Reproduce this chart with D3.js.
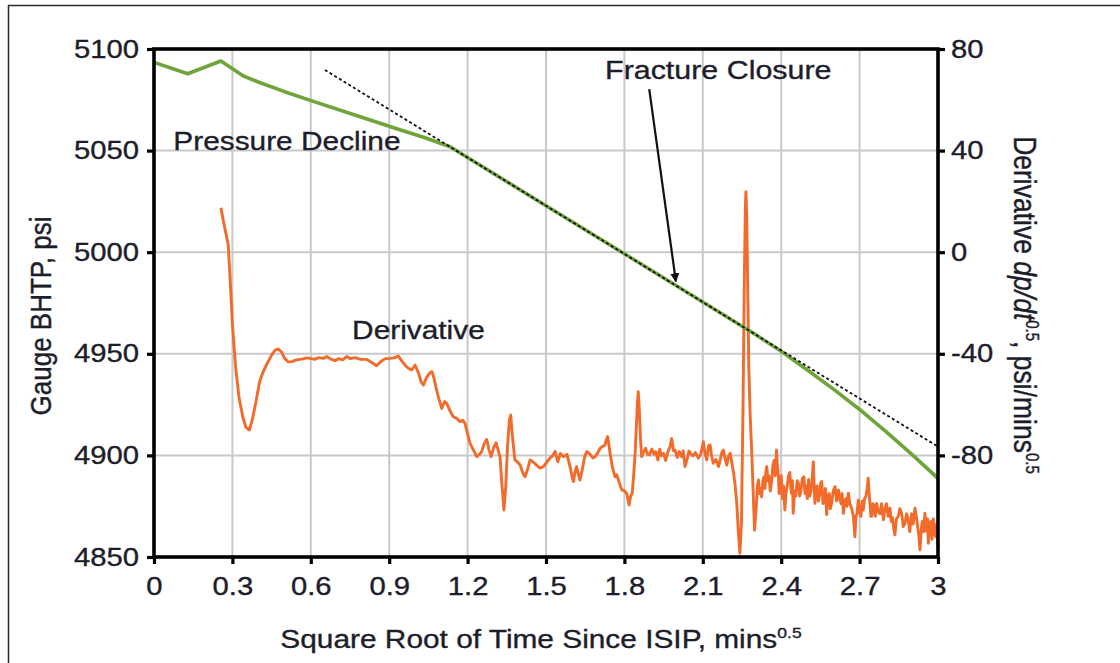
<!DOCTYPE html>
<html>
<head>
<meta charset="utf-8">
<script src="https://cdn.jsdelivr.net/npm/d3@7"></script>
<style>
  html, body { margin: 0; padding: 0; background: #ffffff; }
  svg { display: block; }
  text { font-family: "Liberation Sans", Arial, Helvetica, sans-serif; fill: #1d1d2b;
         stroke: #1d1d2b; stroke-width: 0.35px; }
</style>
</head>
<body>
<svg id="chart" width="1120" height="663"></svg>
<script>
// ---- Data -------------------------------------------------------------
// Bottom-hole pressure (psi) against square root of shut-in time
const pressureT = [0, 0.129, 0.256, 0.342, 0.406, 0.50, 0.601, 0.78, 0.941, 1.04, 1.133,
                   1.5, 1.8, 2.1, 2.3, 2.4, 2.5, 2.6, 2.7, 2.8, 2.9, 3.0];
const pressureP = [5093.4, 5087.8, 5094.1, 5086.7, 5083.4, 5079.0, 5074.6, 5067.0, 5060.3, 5056.2, 5051.9,
                   5022.9, 4999.2, 4975.5, 4959.6, 4951.2, 4942.0, 4932.6, 4922.6, 4911.8, 4900.5, 4888.7];

// Straight-line fit through the linear part of the decline
const tangentT = [0.654, 3.0];
const tangentP = [5089.7, 4904.3];

// Pressure derivative dp/dt^0.5 (psi/mins^0.5)
const derivT = [
  0.256, 0.266, 0.278, 0.284, 0.292, 0.300, 0.312, 0.325, 0.340, 0.352, 0.365, 0.376, 0.390, 0.404,
  0.418, 0.432, 0.450, 0.463, 0.476, 0.488, 0.500, 0.514, 0.527, 0.545, 0.565, 0.585, 0.597, 0.615,
  0.630, 0.648, 0.661, 0.675, 0.693, 0.708, 0.722, 0.737, 0.752, 0.770, 0.790, 0.814, 0.830, 0.852,
  0.868, 0.885, 0.903, 0.918, 0.935, 0.948, 0.960, 0.972, 0.986, 0.999, 1.012, 1.022, 1.031, 1.042,
  1.053, 1.063, 1.070, 1.078, 1.088, 1.101, 1.112, 1.120, 1.132, 1.145, 1.158, 1.171, 1.182, 1.190,
  1.200, 1.209, 1.222, 1.235, 1.245, 1.254, 1.264, 1.273, 1.282, 1.290, 1.300, 1.309, 1.317, 1.324,
  1.331, 1.339, 1.346, 1.353, 1.360, 1.365, 1.371, 1.381, 1.391, 1.401, 1.411, 1.420, 1.430, 1.439,
  1.450, 1.464, 1.477, 1.490, 1.503, 1.515, 1.525, 1.535, 1.545, 1.555, 1.566, 1.580, 1.592, 1.600,
  1.605, 1.612, 1.617, 1.624, 1.630, 1.638, 1.648, 1.656, 1.668, 1.679, 1.688, 1.698, 1.707, 1.716,
  1.726, 1.731, 1.736, 1.741, 1.745, 1.754, 1.764, 1.771, 1.777, 1.784, 1.790, 1.800, 1.809, 1.814,
  1.818, 1.824, 1.830, 1.836, 1.841, 1.846, 1.850, 1.853, 1.857, 1.862, 1.866, 1.873, 1.881, 1.888,
  1.896, 1.905, 1.913, 1.920, 1.928, 1.935, 1.942, 1.950, 1.958, 1.966, 1.975, 1.981, 1.988, 1.994,
  2.002, 2.010, 2.019, 2.025, 2.032, 2.040, 2.047, 2.055, 2.063, 2.072, 2.083, 2.092, 2.097, 2.102,
  2.108, 2.115, 2.122, 2.128, 2.134, 2.140, 2.150, 2.160, 2.168, 2.174, 2.179, 2.185, 2.192, 2.198,
  2.205, 2.211, 2.217, 2.224, 2.230, 2.236, 2.242, 2.248, 2.254, 2.259, 2.263, 2.265, 2.268, 2.272,
  2.276, 2.281, 2.287, 2.293, 2.298,
  2.304, 2.309, 2.313, 2.317, 2.321, 2.325, 2.330, 2.334, 2.338, 2.342, 2.345, 2.349, 2.353, 2.358,
  2.364, 2.368, 2.373, 2.377, 2.382, 2.385, 2.388, 2.392, 2.395, 2.400, 2.405, 2.409, 2.414, 2.418,
  2.423, 2.428, 2.433, 2.437, 2.440, 2.443, 2.446, 2.451, 2.456, 2.461, 2.466, 2.471, 2.476, 2.481,
  2.487, 2.491, 2.496, 2.500, 2.505, 2.509, 2.514, 2.518, 2.523, 2.526, 2.529, 2.533, 2.537, 2.542,
  2.547, 2.551, 2.555, 2.560, 2.565, 2.569, 2.574, 2.579, 2.584, 2.588, 2.593, 2.599, 2.606, 2.612,
  2.619, 2.624, 2.629, 2.633, 2.638, 2.643, 2.648, 2.652, 2.657, 2.663, 2.670, 2.676, 2.682, 2.686,
  2.690, 2.695, 2.700, 2.705, 2.710, 2.714, 2.719, 2.724, 2.729, 2.733, 2.737, 2.740, 2.743, 2.746,
  2.751, 2.756, 2.760, 2.765, 2.771, 2.778, 2.784, 2.791, 2.797, 2.803, 2.809, 2.816, 2.821, 2.826,
  2.831, 2.835, 2.841, 2.848, 2.854, 2.861, 2.867, 2.873, 2.880, 2.886, 2.892, 2.899, 2.905, 2.912,
  2.917, 2.922, 2.927, 2.931, 2.936, 2.940, 2.945, 2.950, 2.954, 2.957, 2.960, 2.963, 2.967, 2.972,
  2.977, 2.982, 2.986, 2.991, 2.995, 3.000
];
const derivD = [
  17.5, 12, 6, 2.8, -12, -28, -45, -57, -65, -69, -70, -66, -59, -51,
  -47, -44, -40.5, -38.6, -38.1, -39.3, -41.8, -43.2, -43.1, -42.4, -42.1, -41.6, -41.8, -42.2,
  -41.5, -41.8, -41.1, -42, -42.7, -41.9, -42.4, -41.1, -41.9, -41.5, -42.2, -42.2, -43.2, -44.7,
  -43, -41.9, -41.8, -41.6, -40.9, -42.8, -44.4, -45.6, -46.4, -44.4, -47.5, -51, -52.3, -49.5,
  -47.8, -47, -49, -52.8, -57, -61.5, -58.8, -59.5, -62.3, -64.8, -65.4, -66.7, -66.2, -67.4,
  -71.5, -75.2, -77.8, -80.5, -79.7, -78.5, -75.2, -73.7, -77.8, -80.5, -76.8, -75, -78, -80.5,
  -91, -101.5, -92, -76, -66, -64.1, -72, -81.8, -82.6, -83.8, -86.8, -88.4, -85.3, -81.8,
  -82.5, -83.8, -85, -84.4, -82.7, -81.1, -80.2, -78.5, -82.5, -79.2, -80.5, -79.6, -84.4, -88.5,
  -90.3, -86, -84.4, -87.5, -89.7, -86, -80.5, -78.5, -79.5, -81, -80.5, -79, -77.2, -76.5,
  -75.9, -73.8, -72.6, -76, -79.2, -84.5, -88.4, -87.6, -89.7, -91.8, -93.6, -94, -95, -97.5,
  -99.5, -96, -95, -87, -79.2, -68, -59, -54.9, -62, -74, -80.5, -78.8, -77.2, -79.5,
  -79.8, -77.5, -79.5, -78.5, -81.8, -77.6, -80.2, -79.2, -82, -78.7, -76.5, -73.3, -78.2, -78,
  -80.8, -78.5, -80.5, -78.2, -84.4, -81.5, -78.3, -79.5, -80.2, -78.9, -81.1, -79.5, -77.2, -74.6,
  -78.9, -81.8, -76.2, -75.9, -80.5, -83.1, -81.6, -84.4, -81.2, -78.5, -78, -81.2, -83.8, -80.4,
  -79.2, -82.8, -86.4, -92, -98.9, -110, -118.5, -106, -60, -10, 18, 23.8, 15, -15,
  -45, -63.4, -78, -95, -109.4,
  -101, -92, -89.7, -95, -93, -96.3, -90, -88.5, -93, -86, -84.4, -90, -88, -94,
  -89.7, -84, -82, -88, -77.9, -84, -86, -95, -92.3, -88, -97, -92, -101.5, -95,
  -92, -88, -86.7, -93, -95, -90, -102.8, -94, -96, -90, -91, -96, -93.5, -89,
  -88.4, -95, -92, -97, -89.5, -96, -94, -90, -82.5, -92, -98.9, -93, -92, -98,
  -95.5, -91, -90.3, -99, -97, -93, -103.3, -96, -95, -101, -98.9, -94, -92.3, -98,
  -93.6, -97, -99, -95, -102.8, -98, -97, -100, -94.9, -99, -101, -104, -112, -104,
  -103, -97.6, -102, -104, -98, -101.5, -97, -96, -93, -89, -96, -99, -104, -104,
  -99, -100, -104, -98.9, -102, -103, -99, -105.4, -101, -99, -104, -100.8, -106, -104.5,
  -109, -111.3, -105, -104, -101, -102.8, -108, -107, -103, -105.4, -110, -103, -107, -100.8,
  -104, -108, -112, -117.2, -109, -106, -110, -102.8, -108, -110, -105, -114.6, -108, -106,
  -113, -105, -110, -112, -107, -116.6
];

// Axis ticks
const xTicks = [0, 0.3, 0.6, 0.9, 1.2, 1.5, 1.8, 2.1, 2.4, 2.7, 3];
const xTickLabels = ["0", "0.3", "0.6", "0.9", "1.2", "1.5", "1.8", "2.1", "2.4", "2.7", "3"];
const leftTicks = [4850, 4900, 4950, 5000, 5050, 5100];
const rightTicks = [-80, -40, 0, 40, 80];

// Annotations, anchored in data units (x, left-axis pressure)
const labelPressure = { t: 0.074, p: 5050.2, text: "Pressure Decline" };
const labelDeriv = { t: 0.758, p: 4957.3, text: "Derivative" };
const labelClosure = { t: 1.726, p: 5085.1, text: "Fracture Closure" };
const closureArrow = { t0: 1.895, p0: 5080.3, t1: 1.997, p1: 4985.6 };

// ---- Layout -----------------------------------------------------------
const svg = d3.select("#chart");
const plot = { left: 154, right: 938, top: 49, bottom: 557 };
const STRETCH = 1.17;          // horizontal widening applied to all lettering
const COL_GREEN = "#6fa43a";
const COL_ORANGE = "#f26b2a";
const COL_GRID = "#c9c9cc";
const COL_INK = "#1d1d2b";

const x = d3.scaleLinear().domain([0, 3]).range([plot.left, plot.right]);
const yL = d3.scaleLinear().domain([4850, 5100]).range([plot.bottom, plot.top]);
const yR = d3.scaleLinear().domain([-120, 80]).range([plot.bottom, plot.top]);

// Outer frame (top and left edges)
svg.append("line").attr("x1", 8).attr("y1", 5.5).attr("x2", 1120).attr("y2", 5.5)
  .attr("stroke", "#2a2a2a").attr("stroke-width", 1.5);
svg.append("line").attr("x1", 8.5).attr("y1", 5).attr("x2", 8.5).attr("y2", 663)
  .attr("stroke", "#2a2a2a").attr("stroke-width", 1.5);

// Grid
const grid = svg.append("g");
grid.selectAll("line.vg").data(xTicks.slice(1, -1)).join("line")
  .attr("x1", d => x(d)).attr("x2", d => x(d))
  .attr("y1", plot.top).attr("y2", plot.bottom)
  .attr("stroke", COL_GRID).attr("stroke-width", 2);
grid.selectAll("line.hg").data(leftTicks.slice(1, -1)).join("line")
  .attr("x1", plot.left).attr("x2", plot.right)
  .attr("y1", d => yL(d)).attr("y2", d => yL(d))
  .attr("stroke", COL_GRID).attr("stroke-width", 2);

// Series
const pressureLine = d3.line().x(d => x(d[0])).y(d => yL(d[1]));
const derivLine = d3.line().x(d => x(d[0])).y(d => yR(d[1]));

svg.append("path")
  .datum(derivT.map((t, i) => [t, derivD[i]]))
  .attr("d", derivLine)
  .attr("fill", "none").attr("stroke", COL_ORANGE).attr("stroke-width", 2.9)
  .attr("stroke-linejoin", "round");

svg.append("path")
  .datum(pressureT.map((t, i) => [t, pressureP[i]]))
  .attr("d", pressureLine)
  .attr("fill", "none").attr("stroke", COL_GREEN).attr("stroke-width", 3.6)
  .attr("stroke-linejoin", "round");

svg.append("path")
  .datum(tangentT.map((t, i) => [t, tangentP[i]]))
  .attr("d", pressureLine)
  .attr("fill", "none").attr("stroke", "#111").attr("stroke-width", 1.8)
  .attr("stroke-dasharray", "3,2.5");

// Axes
function styleAxis(g, dx, dy, anchor) {
  g.select(".domain").remove();
  g.selectAll(".tick line").attr("stroke", "#000").attr("stroke-width", 3.2);
  g.selectAll(".tick text")
    .attr("x", null).attr("y", null).attr("dy", null)
    .attr("text-anchor", anchor)
    .attr("transform", `translate(${dx},${dy}) scale(${STRETCH},1)`)
    .style("font-size", "25px").style("fill", COL_INK);
}

svg.append("g").attr("transform", `translate(${plot.left},0)`)
  .call(d3.axisLeft(yL).tickValues(leftTicks).tickSize(7).tickFormat(d => String(d)))
  .attr("font-family", null).attr("font-size", null)
  .call(g => styleAxis(g, -15, 8, "end"));

svg.append("g").attr("transform", `translate(${plot.right},0)`)
  .call(d3.axisRight(yR).tickValues(rightTicks).tickSize(7).tickFormat(d => String(d)))
  .attr("font-family", null).attr("font-size", null)
  .call(g => styleAxis(g, 13, 8, "start"));

svg.append("g").attr("transform", `translate(0,${plot.bottom})`)
  .call(d3.axisBottom(x).tickValues(xTicks).tickSize(7).tickFormat((d, i) => xTickLabels[i]))
  .attr("font-family", null).attr("font-size", null)
  .call(g => styleAxis(g, 0, 38, "middle"));

// Plot frame
svg.append("rect")
  .attr("x", plot.left).attr("y", plot.top)
  .attr("width", plot.right - plot.left).attr("height", plot.bottom - plot.top)
  .attr("fill", "none").attr("stroke", "#000").attr("stroke-width", 3.6);

// Axis titles
const xTitle = svg.append("text")
  .attr("text-anchor", "middle")
  .attr("transform", `translate(541,648) scale(${STRETCH},1)`)
  .style("font-size", "25.5px");
xTitle.append("tspan").text("Square Root of Time Since ISIP, mins");
xTitle.append("tspan").attr("dy", -10).style("font-size", "15px").text("0.5");

svg.append("text")
  .attr("text-anchor", "middle")
  .attr("transform", `translate(51,316) rotate(-90) scale(1,${STRETCH})`)
  .style("font-size", "26px")
  .text("Gauge BHTP, psi");

const rTitle = svg.append("text")
  .attr("text-anchor", "middle")
  .attr("transform", `translate(1014,305) rotate(90) scale(1,${STRETCH})`)
  .style("font-size", "26.5px");
rTitle.append("tspan").text("Derivative ");
rTitle.append("tspan").style("font-style", "italic").text("dp/dt");
rTitle.append("tspan").attr("dy", -10).style("font-size", "15px").text("0.5");
rTitle.append("tspan").attr("dy", 10).text(", psi/mins");
rTitle.append("tspan").attr("dy", -10).style("font-size", "15px").text("0.5");

// Annotations
function annotate(lbl, size) {
  svg.append("text")
    .attr("transform", `translate(${x(lbl.t)},${yL(lbl.p)}) scale(${STRETCH},1)`)
    .style("font-size", size + "px")
    .text(lbl.text);
}
annotate(labelPressure, 25.5);
annotate(labelDeriv, 25.5);
annotate(labelClosure, 26);

svg.append("defs").append("marker")
  .attr("id", "arrowHead").attr("viewBox", "0 0 10 10")
  .attr("refX", 9).attr("refY", 5)
  .attr("markerWidth", 4.2).attr("markerHeight", 4.2)
  .attr("markerUnits", "strokeWidth").attr("orient", "auto")
  .append("path").attr("d", "M0,0 L10,5 L0,10 Z").attr("fill", "#111");

svg.append("line")
  .attr("x1", x(closureArrow.t0)).attr("y1", yL(closureArrow.p0))
  .attr("x2", x(closureArrow.t1)).attr("y2", yL(closureArrow.p1))
  .attr("stroke", "#111").attr("stroke-width", 2.2)
  .attr("marker-end", "url(#arrowHead)");
</script>
</body>
</html>
